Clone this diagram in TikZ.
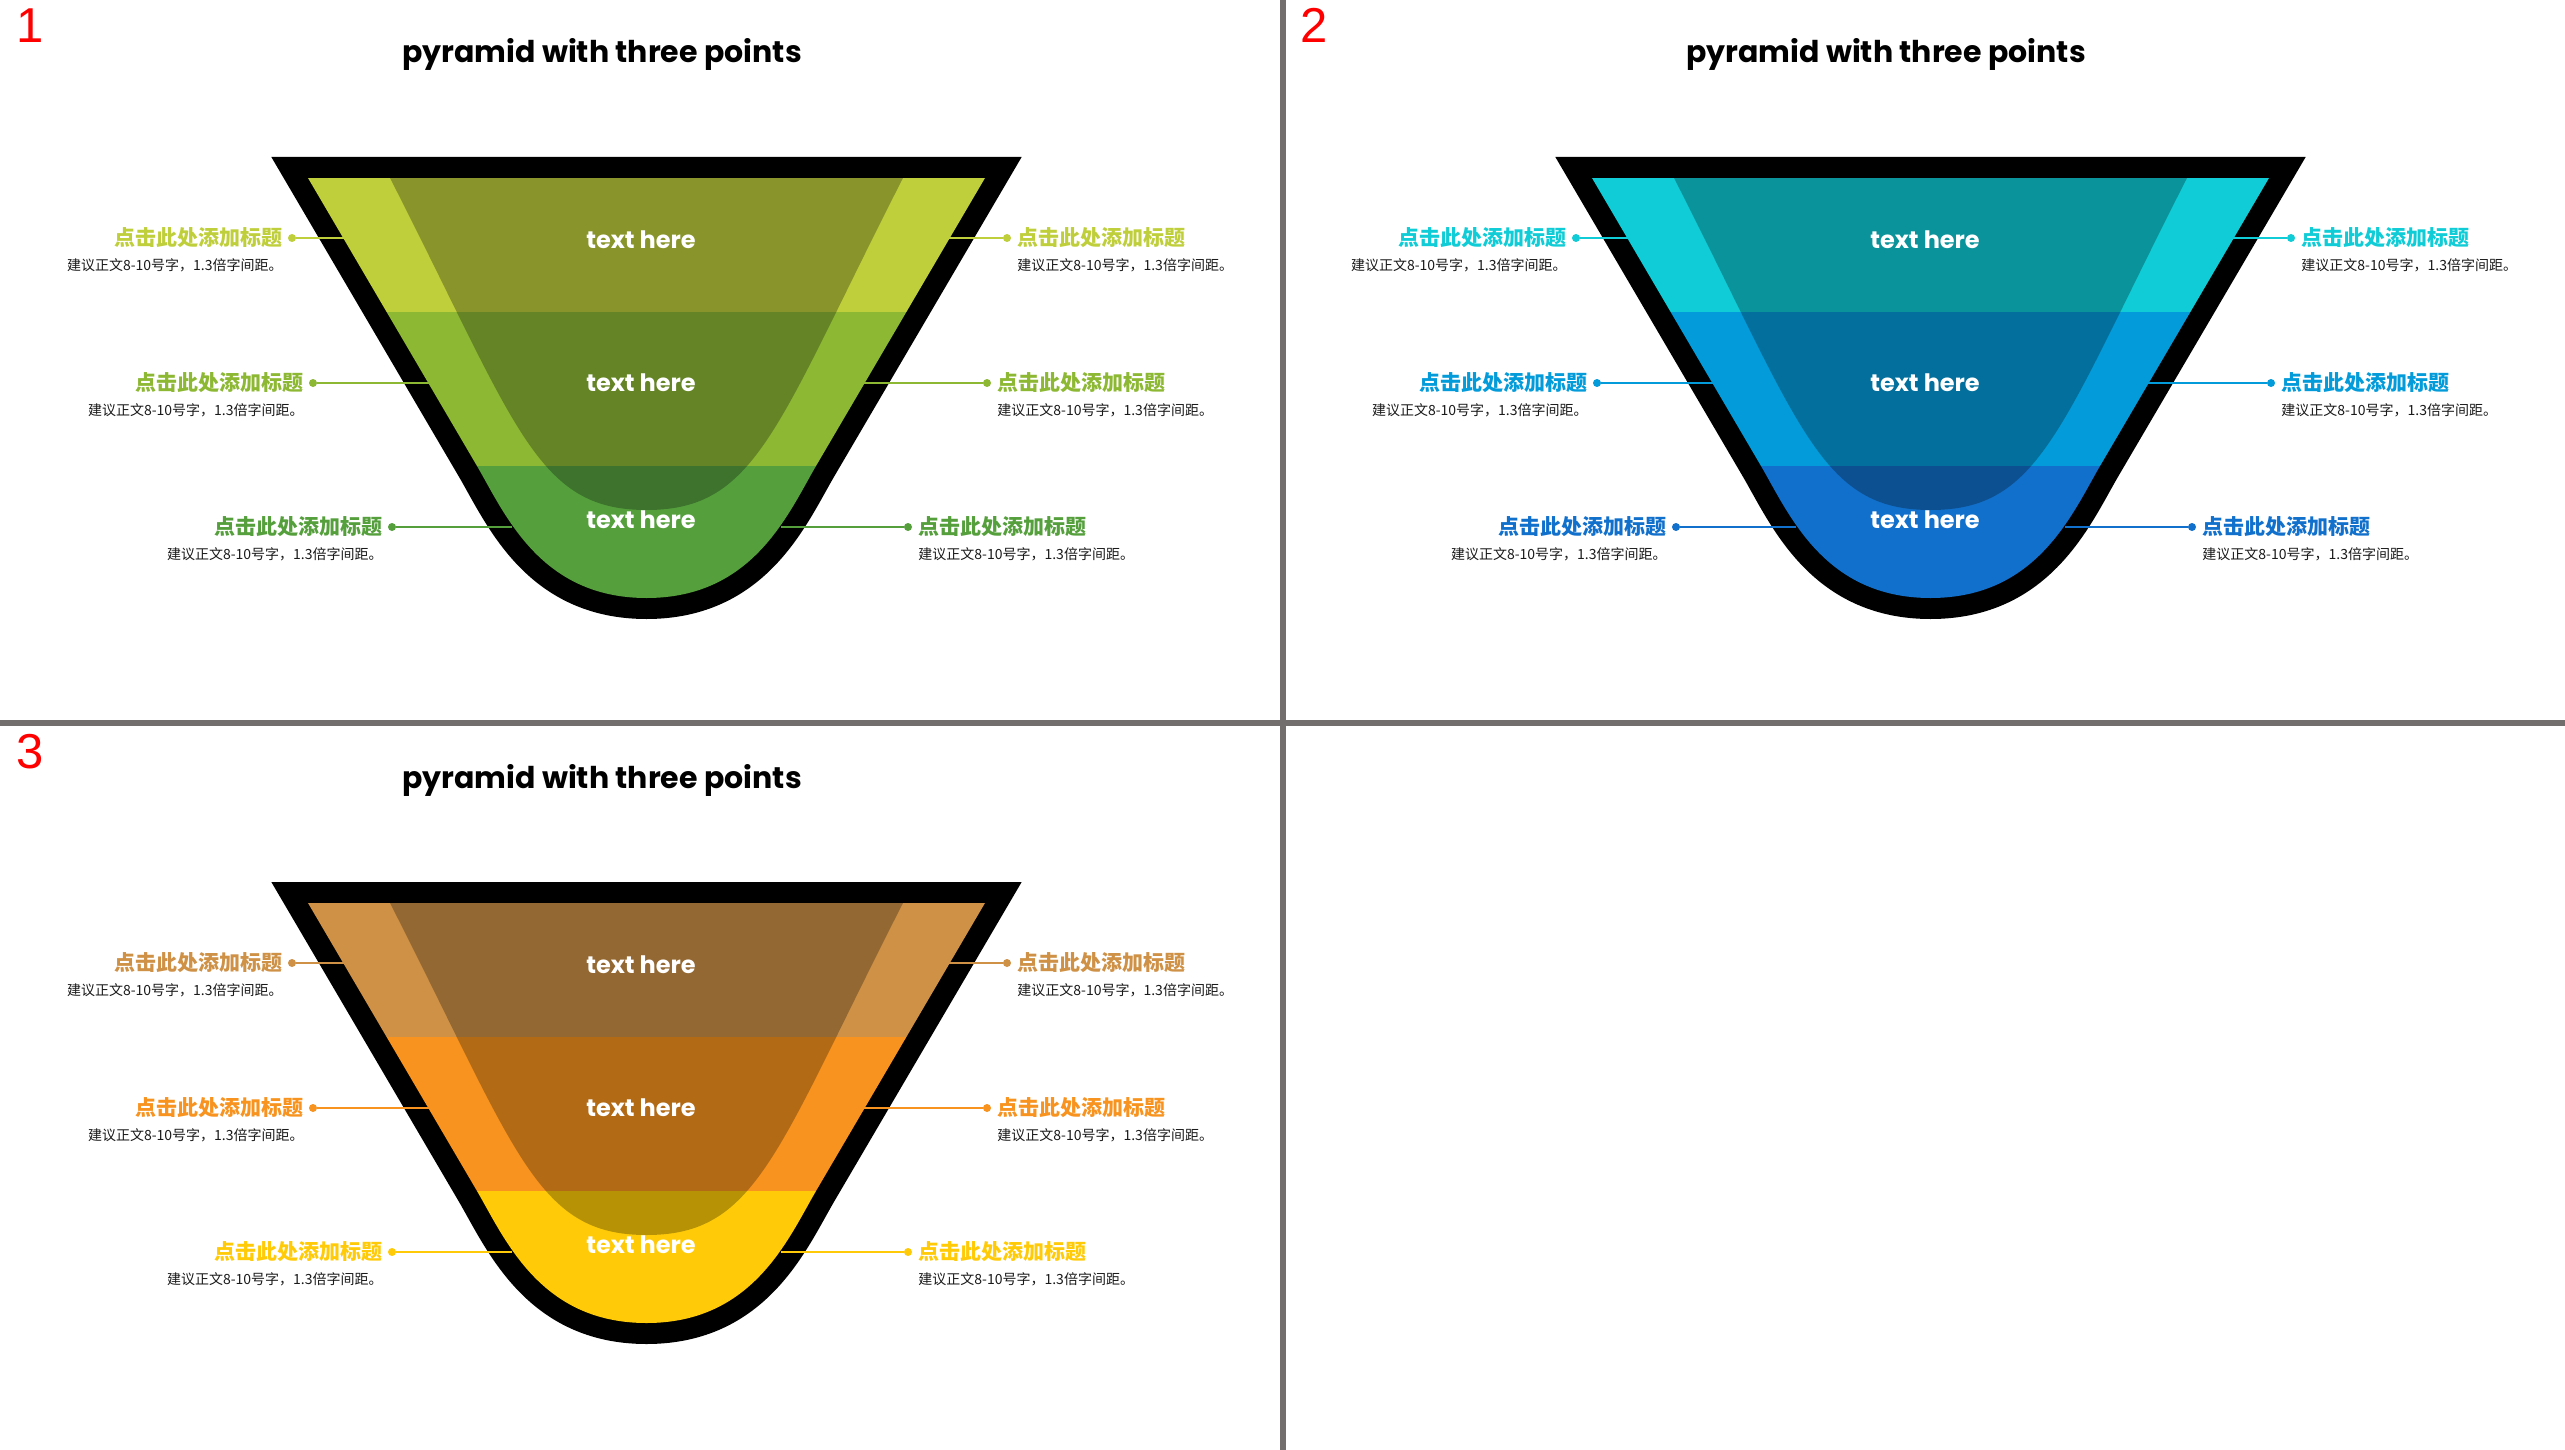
\documentclass[tikz,border=0pt]{standalone}
\usepackage{fontspec}
\setmainfont{Poppins}
\newfontfamily\cjk{Noto Sans CJK SC}
\newfontfamily\numfont{Liberation Sans}
\usetikzlibrary{positioning}

\definecolor{grA}{HTML}{BFCF3B}
\definecolor{grB}{HTML}{8DB834}
\definecolor{grC}{HTML}{55A03D}
\definecolor{blA}{HTML}{0FCCD6}
\definecolor{blB}{HTML}{039BD9}
\definecolor{blC}{HTML}{1170CB}
\definecolor{orA}{HTML}{CE9146}
\definecolor{orB}{HTML}{F7931E}
\definecolor{orC}{HTML}{FFCB08}
\definecolor{divider}{HTML}{736E6E}
\definecolor{hintgray}{HTML}{1A1A1A}

\tikzset{
  heading/.style={font=\cjk\bfseries\fontsize{21}{21}\selectfont, inner sep=0pt},
  hint/.style={font=\cjk\fontsize{14}{14}\selectfont, text=hintgray, inner sep=0pt},
  bandtext/.style={font=\bfseries\fontsize{24}{24}\selectfont, text=white, inner sep=0pt},
  pagetitle/.style={font=\bfseries\fontsize{30}{30}\selectfont, inner sep=0pt, anchor=base},
  panelno/.style={font=\numfont\fontsize{49}{49}\selectfont, text=red, inner sep=0pt, anchor=base west},
  dot/.style={circle, inner sep=0pt, minimum size=8pt},
  leader/.style={line width=1.5pt},
  rim/.style={line width=42pt, line join=miter},
}

\begin{document}
\begin{tikzpicture}[x=1pt, y=-1pt]
  \useasboundingbox (0,0) rectangle (2565,1450);
  \fill[white] (0,0) rectangle (2565,1450);

  \foreach \px/\py/\k/\ca/\cb/\cc in {0/0/1/grA/grB/grC, 1284/0/2/blA/blB/blC, 0/725/3/orA/orB/orC}{
    \begin{scope}[shift={(\px,\py)}]
      % panel number and title
      \node[panelno] (no\k) at (16,43) {\k};
      \node[pagetitle] (title\k) at (602,63) {pyramid with three points};

      % black rim
      \filldraw[rim] (308,178) -- (985,178) -- (816,466) .. controls (788,514) and (753,598) .. (646.5,598)
        .. controls (540,598) and (505,514) .. (477,466) -- cycle;

      % three bands and the darker inner cup
      \begin{scope}
        \clip (308,178) -- (985,178) -- (816,466) .. controls (788,514) and (753,598) .. (646.5,598)
          .. controls (540,598) and (505,514) .. (477,466) -- cycle;
        \fill[\ca] (300,178) rectangle (990,312);
        \fill[\cb] (300,312) rectangle (990,466);
        \fill[\cc] (300,466) rectangle (990,600);
        \fill[black, opacity=0.28] (390,178) -- (903,178) .. controls (775.5,428) and (757,510) .. (646.5,510)
          .. controls (536,510) and (517.5,428) .. (390,178) -- cycle;
      \end{scope}

      \node[bandtext] (band1-\k) at (641,240) {text here};
      \node[bandtext] (band2-\k) at (641,383) {text here};
      \node[bandtext] (band3-\k) at (641,520) {text here};

      % left labels
      \node[dot, fill=\ca] (l1-\k) at (292,238) {};
      \node[dot, fill=\cb] (l2-\k) at (313,383) {};
      \node[dot, fill=\cc] (l3-\k) at (392,527) {};
      \node[heading, text=\ca, left=5pt of l1-\k] (lh1-\k) {点击此处添加标题};
      \node[heading, text=\cb, left=5pt of l2-\k] (lh2-\k) {点击此处添加标题};
      \node[heading, text=\cc, left=5pt of l3-\k] (lh3-\k) {点击此处添加标题};
      \node[hint, below left=10pt and 0pt of lh1-\k.south east] (lt1-\k) {建议正文8-10号字，1.3倍字间距。};
      \node[hint, below left=10pt and 0pt of lh2-\k.south east] (lt2-\k) {建议正文8-10号字，1.3倍字间距。};
      \node[hint, below left=10pt and 0pt of lh3-\k.south east] (lt3-\k) {建议正文8-10号字，1.3倍字间距。};

      % right labels
      \node[dot, fill=\ca] (r1-\k) at (1007,238) {};
      \node[dot, fill=\cb] (r2-\k) at (987,383) {};
      \node[dot, fill=\cc] (r3-\k) at (908,527) {};
      \node[heading, text=\ca, right=6pt of r1-\k] (rh1-\k) {点击此处添加标题};
      \node[heading, text=\cb, right=6pt of r2-\k] (rh2-\k) {点击此处添加标题};
      \node[heading, text=\cc, right=6pt of r3-\k] (rh3-\k) {点击此处添加标题};
      \node[hint, below right=10pt and 0pt of rh1-\k.south west] (rt1-\k) {建议正文8-10号字，1.3倍字间距。};
      \node[hint, below right=10pt and 0pt of rh2-\k.south west] (rt2-\k) {建议正文8-10号字，1.3倍字间距。};
      \node[hint, below right=10pt and 0pt of rh3-\k.south west] (rt3-\k) {建议正文8-10号字，1.3倍字间距。};

      % leader lines
      \coordinate (le1-\k) at (348,238);
      \coordinate (le2-\k) at (431,383);
      \coordinate (le3-\k) at (512,527);
      \coordinate (re1-\k) at (945,238);
      \coordinate (re2-\k) at (862,383);
      \coordinate (re3-\k) at (781,527);
      \draw[leader, \ca] (l1-\k) -- (le1-\k);
      \draw[leader, \cb] (l2-\k) -- (le2-\k);
      \draw[leader, \cc] (l3-\k) -- (le3-\k);
      \draw[leader, \ca] (re1-\k) -- (r1-\k);
      \draw[leader, \cb] (re2-\k) -- (r2-\k);
      \draw[leader, \cc] (re3-\k) -- (r3-\k);
    \end{scope}
  }

  % dividers
  \fill[divider] (1280,0) rectangle (1286,1450);
  \fill[divider] (0,720) rectangle (2565,726);
\end{tikzpicture}
\end{document}
